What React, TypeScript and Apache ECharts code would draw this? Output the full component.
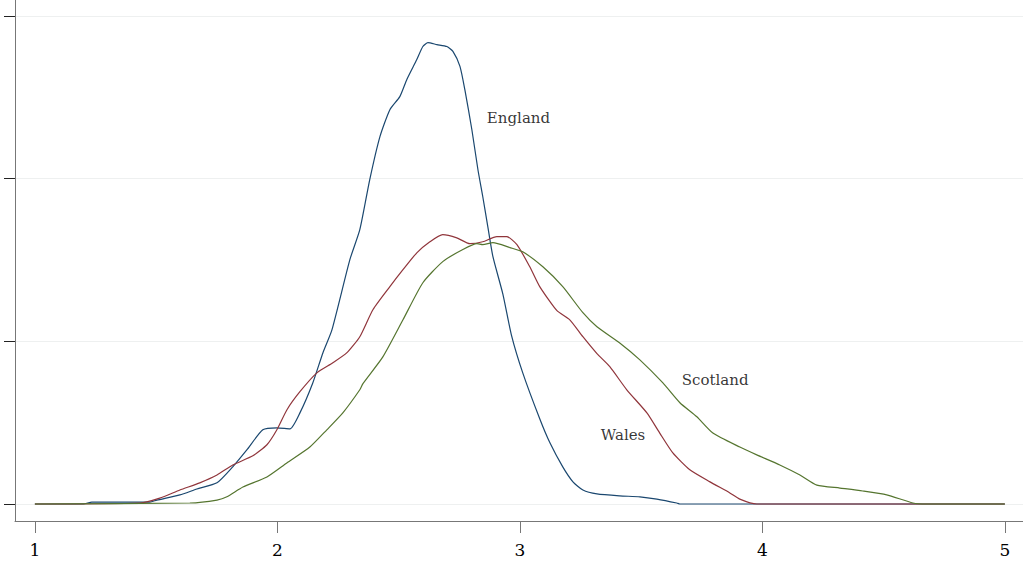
import React, { useEffect, useRef } from "react";
import * as echarts from "echarts";

const xTicks = [1, 2, 3, 4, 5];
const yTicks = [0, 0.5, 1, 1.5];

const england: [number, number][] = [
  [1.0, 0], [1.2, 0], [1.235, 0.006], [1.474, 0.006], [1.503, 0.012], [1.598, 0.028],
  [1.668, 0.046], [1.751, 0.065], [1.816, 0.114], [1.874, 0.166], [1.94, 0.228],
  [1.998, 0.234], [2.052, 0.231], [2.093, 0.28], [2.146, 0.372], [2.188, 0.465],
  [2.225, 0.535], [2.299, 0.751], [2.34, 0.843], [2.381, 0.997], [2.423, 1.129],
  [2.464, 1.212], [2.505, 1.252], [2.534, 1.305], [2.575, 1.366], [2.6, 1.406],
  [2.621, 1.418], [2.658, 1.412], [2.699, 1.406], [2.724, 1.391], [2.753, 1.345],
  [2.773, 1.274], [2.802, 1.151], [2.827, 1.028], [2.847, 0.945], [2.868, 0.852],
  [2.889, 0.76], [2.93, 0.645], [2.965, 0.52], [3.012, 0.403], [3.082, 0.262],
  [3.124, 0.188], [3.177, 0.114], [3.219, 0.068], [3.26, 0.043], [3.318, 0.031],
  [3.412, 0.025], [3.495, 0.022], [3.565, 0.015], [3.647, 0.003], [3.66, 0], [5.0, 0],
];

const wales: [number, number][] = [
  [1.0, 0], [1.433, 0.003], [1.515, 0.018], [1.598, 0.043], [1.68, 0.065], [1.751, 0.089],
  [1.816, 0.12], [1.899, 0.148], [1.957, 0.182], [1.998, 0.228], [2.039, 0.289],
  [2.093, 0.345], [2.163, 0.403], [2.229, 0.434], [2.287, 0.465], [2.34, 0.514],
  [2.394, 0.597], [2.464, 0.668], [2.518, 0.72], [2.575, 0.772], [2.629, 0.806],
  [2.682, 0.828], [2.74, 0.818], [2.794, 0.8], [2.847, 0.806], [2.905, 0.822],
  [2.946, 0.822], [2.988, 0.797], [3.041, 0.729], [3.082, 0.668], [3.153, 0.594],
  [3.206, 0.566], [3.26, 0.514], [3.318, 0.462], [3.371, 0.422], [3.441, 0.351],
  [3.524, 0.28], [3.577, 0.218], [3.631, 0.157], [3.701, 0.105], [3.784, 0.068],
  [3.866, 0.034], [3.907, 0.015], [3.977, 0], [5.0, 0],
];

const scotland: [number, number][] = [
  [1.0, 0], [1.639, 0.003], [1.751, 0.012], [1.792, 0.022], [1.858, 0.052], [1.957, 0.083],
  [2.039, 0.126], [2.134, 0.175], [2.204, 0.228], [2.27, 0.28], [2.34, 0.351],
  [2.353, 0.37], [2.435, 0.452], [2.518, 0.566], [2.6, 0.68], [2.682, 0.745],
  [2.765, 0.782], [2.823, 0.8], [2.847, 0.797], [2.889, 0.803], [2.959, 0.788],
  [3.012, 0.775], [3.095, 0.729], [3.177, 0.668], [3.26, 0.588], [3.318, 0.545],
  [3.412, 0.495], [3.495, 0.443], [3.59, 0.372], [3.66, 0.311], [3.73, 0.268],
  [3.796, 0.218], [3.907, 0.175], [3.977, 0.151], [4.072, 0.12], [4.155, 0.089],
  [4.225, 0.058], [4.32, 0.049], [4.414, 0.04], [4.513, 0.028], [4.621, 0.003],
  [4.678, 0], [5.0, 0],
];

const seriesLabels: { name: string; pos: [number, number] }[] = [
  { name: "England", pos: [2.864, 1.185] },
  { name: "Scotland", pos: [3.668, 0.382] },
  { name: "Wales", pos: [3.334, 0.212] },
];

const FONT = "DejaVu Serif";

export default function App() {
  const ref = useRef<HTMLDivElement>(null);
  useEffect(() => {
    if (!ref.current) return;
    const chart = echarts.init(ref.current, undefined, { renderer: "svg" });
    const lineSeries = (name: string, data: [number, number][], color: string) => ({
      type: "line",
      name,
      data,
      showSymbol: false,
      symbol: "none",
      smooth: 0.2,
      lineStyle: { color, width: 1.2 },
      z: 3,
    });
    chart.setOption({
      animation: false,
      backgroundColor: "#ffffff",
      grid: { left: 15, right: 0, top: 0, bottom: 42 },
      xAxis: {
        type: "value",
        min: 0.918,
        max: 5.075,
        axisLine: { show: true, onZero: false, lineStyle: { color: "#777777", width: 1 } },
        axisTick: { show: true, customValues: xTicks, length: 12, lineStyle: { color: "#777777" } },
        axisLabel: {
          customValues: xTicks,
          color: "#000000",
          fontFamily: FONT,
          fontSize: 17,
          margin: 20,
        },
        splitLine: { show: false },
      },
      yAxis: {
        type: "value",
        min: -0.0523,
        max: 1.549,
        axisLine: { show: true, onZero: false, lineStyle: { color: "#777777", width: 1 } },
        axisTick: { show: true, customValues: yTicks, length: 11, lineStyle: { color: "#222222" } },
        axisLabel: { show: false, customValues: yTicks },
        splitLine: { show: true, lineStyle: { color: "#eef0f0", width: 1 } },
      },
      series: [
        lineSeries("England", england, "#1a476f"),
        lineSeries("Wales", wales, "#90353b"),
        lineSeries("Scotland", scotland, "#55752f"),
        {
          type: "scatter",
          data: seriesLabels.map((l) => ({ value: l.pos, name: l.name })),
          symbolSize: 0,
          silent: true,
          label: {
            show: true,
            position: "inside",
            align: "left",
            verticalAlign: "middle",
            formatter: (p: any) => p.name,
            color: "#000000",
            fontFamily: FONT,
            fontSize: 15,
          },
          z: 5,
        },
      ],
    });
    return () => chart.dispose();
  }, []);
  return (
    <div
      ref={ref}
      style={{ position: "fixed", left: 0, top: 0, width: 1023, height: 563 }}
    />
  );
}
